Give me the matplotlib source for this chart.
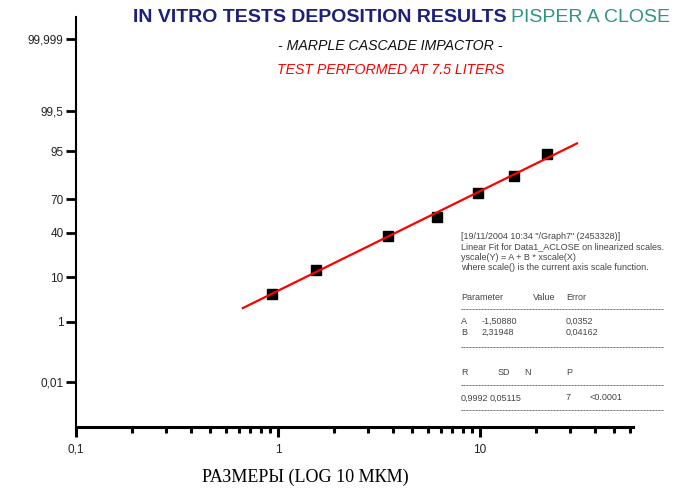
from statistics import NormalDist

import numpy as np
import matplotlib
matplotlib.use("Agg")
import matplotlib.pyplot as plt
from matplotlib.ticker import FixedLocator, NullFormatter

# particle size (um) and cumulative mass undersize (%)
size_um = [0.93, 1.54, 3.52, 6.1, 9.8, 14.8, 21.5]
cum_pct = [4.69, 13.2, 37.3, 55.0, 75.3, 85.8, 94.3]

y_ticks = [0.01, 1, 10, 40, 70, 95, 99.5, 99.999]
y_tick_labels = ["0,01", "1", "10", "40", "70", "95", "99,5", "99,999"]
x_ticks = [0.1, 1, 10]
x_tick_labels = ["0,1", "1", "10"]

fit_header = [
    '[19/11/2004 10:34 "/Graph7" (2453328)]',
    "Linear Fit for Data1_ACLOSE on linearized scales.",
    "yscale(Y) = A + B * xscale(X)",
    "where scale() is the current axis scale function.",
]
param_names = ["A", "B"]
param_values = ["-1,50880", "2,31948"]
param_errors = ["0,0352", "0,04162"]
stat_names = ["R", "SD", "N", "P"]
stat_values = ["0,9992", "0,05115", "7", "<0.0001"]

W, H = 682, 490
nd = NormalDist()


def probit(p):
    p = np.clip(np.asarray(p, dtype=float) / 100.0, 1e-12, 1 - 1e-12)
    return np.vectorize(nd.inv_cdf, otypes=[float])(p)


def inv_probit(z):
    z = np.asarray(z, dtype=float)
    return np.vectorize(nd.cdf, otypes=[float])(z) * 100.0


def px(x, y):
    return x / W, 1 - y / H


fig = plt.figure(figsize=(W / 100, H / 100), dpi=100)
ax = fig.add_axes([76 / W, 1 - 427 / H, (633 - 76) / W, (427 - 17) / H])

ax.set_xscale("log")
ax.set_yscale("function", functions=(probit, inv_probit))
ax.set_xlim(0.1, 57.2)
ax.set_ylim(inv_probit(-4.776), inv_probit(4.776))

# linear fit in the linearized (log10 / probit) space
lx = np.log10(size_um)
b, a = np.polyfit(lx, probit(cum_pct), 1)
xs = np.logspace(np.log10(0.67), np.log10(30.2), 100)
ax.plot(xs, inv_probit(a + b * np.log10(xs)), color="red", lw=1.6, zorder=3)
ax.plot(size_um, cum_pct, "s", color="black", ms=7.6, zorder=2)

for s in ["top", "right"]:
    ax.spines[s].set_visible(False)
ax.spines["left"].set_linewidth(1.5)
ax.spines["bottom"].set_linewidth(2.2)

ax.yaxis.set_major_locator(FixedLocator(y_ticks))
ax.set_yticklabels(y_tick_labels)
ax.yaxis.set_minor_locator(FixedLocator([]))
ax.yaxis.set_minor_formatter(NullFormatter())
ax.tick_params(axis="y", length=7, width=2, pad=2, labelsize=8.5, labelcolor="#222")

minor = [10.0 ** d * (1 + 0.9 * k) for d in (-1, 0, 1) for k in range(1, 10)]
ax.xaxis.set_major_locator(FixedLocator(x_ticks))
ax.set_xticklabels(x_tick_labels)
ax.xaxis.set_minor_locator(FixedLocator([m for m in minor if m < 57]))
ax.xaxis.set_minor_formatter(NullFormatter())
ax.tick_params(axis="x", which="major", length=7, width=2.2, pad=5, labelsize=8.5, labelcolor="#222")
ax.tick_params(axis="x", which="minor", length=4, width=2.2)

for lab in ax.get_xticklabels() + ax.get_yticklabels():
    lab.set_family("Liberation Sans")

# titles
title_font = ["Liberation Sans Narrow", "Liberation Sans"]
fig.text(*px(507, 17), "IN VITRO TESTS DEPOSITION RESULTS", ha="right", va="center",
         fontsize=14, fontweight="bold", color="#1c1f7c", family=title_font)
fig.text(*px(511, 17), "PISPER A CLOSE", ha="left", va="center",
         fontsize=14, color="#2f9585", family=title_font)
fig.text(*px(390, 46), "- MARPLE CASCADE IMPACTOR -", ha="center", va="center",
         fontsize=10.2, style="italic", color="#111", family="Liberation Sans")
fig.text(*px(391, 70), "TEST PERFORMED AT 7.5 LITERS", ha="center", va="center",
         fontsize=10.2, style="italic", color="red", family="Liberation Sans")

fig.text(*px(305, 477), "РАЗМЕРЫ (LOG 10 МКМ)", ha="center", va="center",
         fontsize=13, color="black", family="Liberation Serif")

# fit report box
small = dict(fontsize=6.5, color="#444", family="Liberation Sans", va="center", ha="left")
for i, line in enumerate(fit_header):
    fig.text(*px(461, 236 + 10.5 * i), line, **small)
dashes = "-" * 68
fig.text(*px(461, 298), "Parameter", **small)
fig.text(*px(533, 298), "Value", **small)
fig.text(*px(566, 298), "Error", **small)
fig.text(*px(461, 310), dashes, **small)
for i, (n, v, e) in enumerate(zip(param_names, param_values, param_errors)):
    y = 321 + 11 * i
    fig.text(*px(461, y), n, **small)
    fig.text(*px(482, y), v, **small)
    fig.text(*px(566, y), e, **small)
fig.text(*px(461, 348), dashes, **small)
for n, x in zip(stat_names, [461, 498, 524, 566]):
    fig.text(*px(x, 372), n, **small)
fig.text(*px(461, 386), dashes, **small)
for v, x in zip(stat_values, [461, 490, 566, 590]):
    fig.text(*px(x, 398), v, **small)
fig.text(*px(461, 411), dashes, **small)

fig.savefig("out.png", dpi=100)
